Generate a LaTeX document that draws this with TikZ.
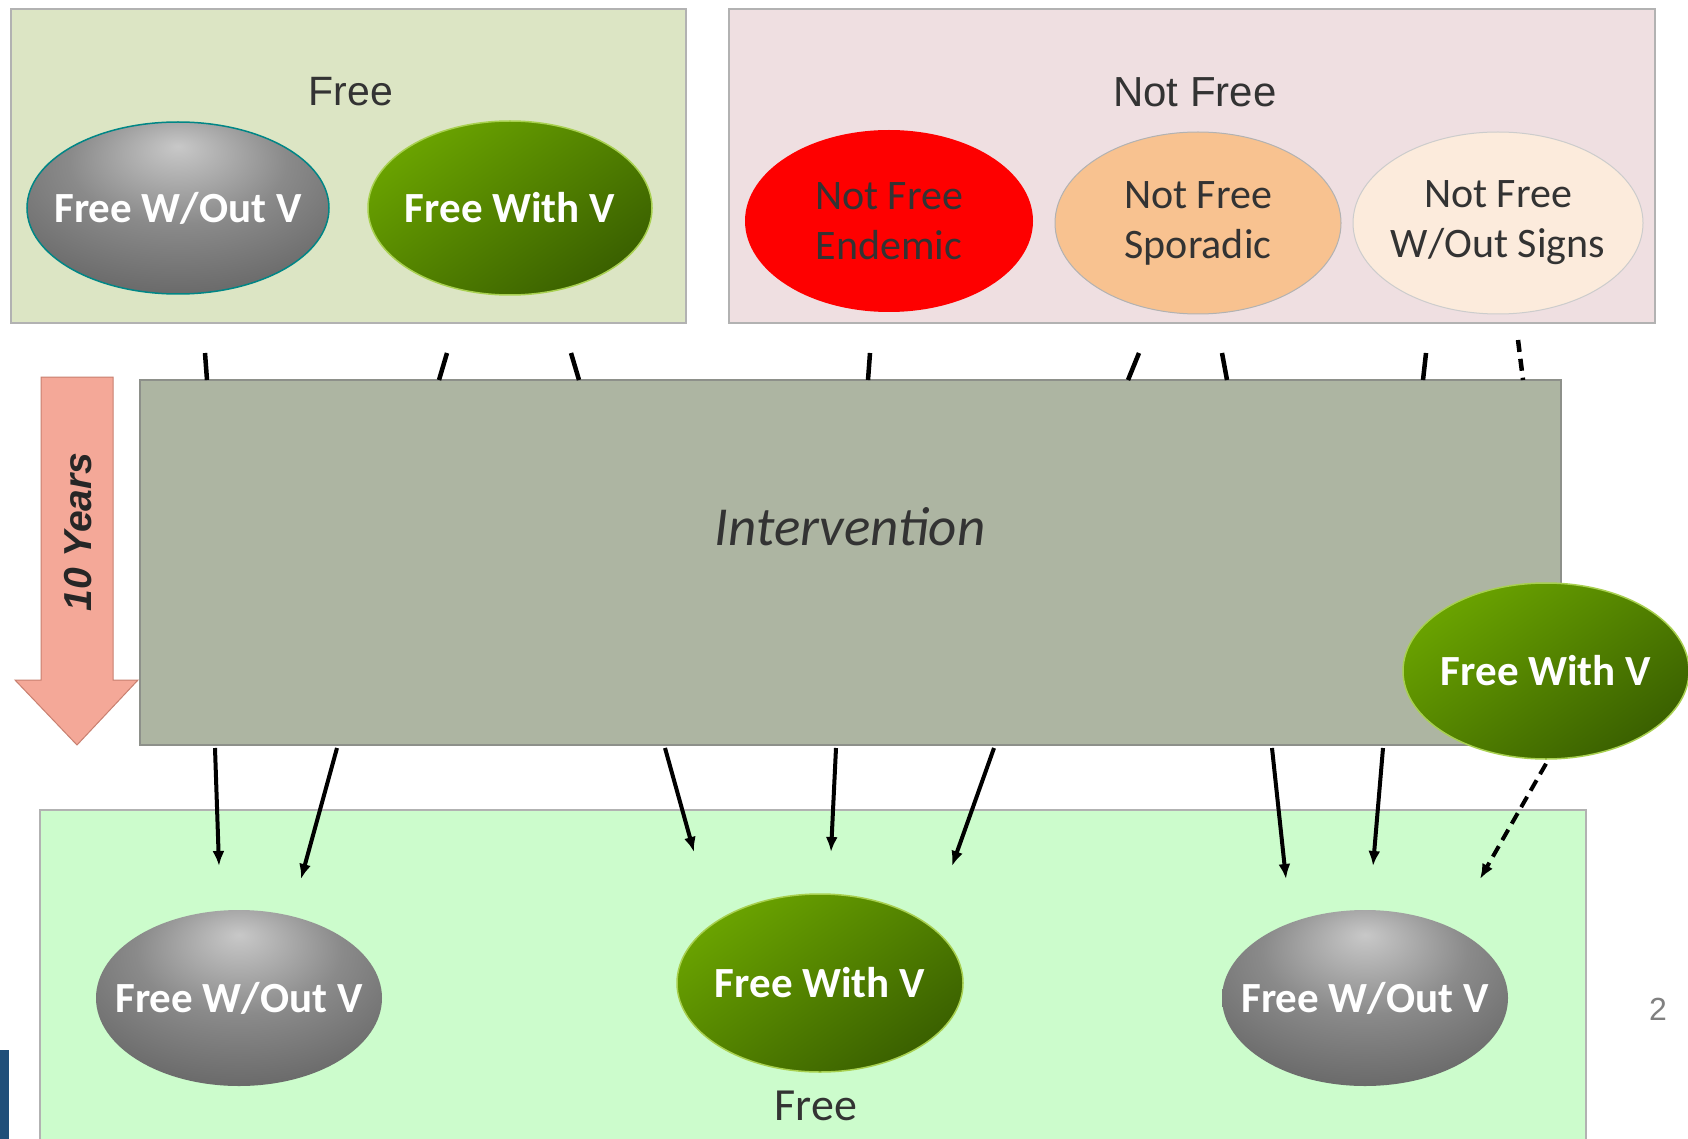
\documentclass[tikz,border=0pt]{standalone}
\usepackage{fontspec}
\setmainfont{Carlito}
\newfontfamily\arialf{Liberation Sans}
\usetikzlibrary{shapes.geometric,arrows.meta}
\definecolor{freeboxc}{HTML}{DCE5C4}
\definecolor{nfboxc}{HTML}{EFDFE1}
\definecolor{intc}{HTML}{ADB5A2}
\definecolor{botc}{HTML}{CCFCCC}
\definecolor{redc}{HTML}{FE0000}
\definecolor{sporc}{HTML}{F8C290}
\definecolor{signc}{HTML}{FCEBDC}
\definecolor{gb1}{HTML}{C8C8C8}
\definecolor{gb2}{HTML}{8A8A8A}
\definecolor{gb3}{HTML}{555555}
\definecolor{gb4}{HTML}{2A2A2A}
\definecolor{grl}{HTML}{6AA300}
\definecolor{grd}{HTML}{3A6000}
\definecolor{grb}{HTML}{A8D050}
\definecolor{arrf}{HTML}{F4A898}
\definecolor{arrd}{HTML}{C88070}
\definecolor{bluebar}{HTML}{1F4E79}
\pgfdeclareradialshading{grayball}{\pgfqpoint{0bp}{18bp}}{color(0bp)=(gb1); color(18bp)=(gb2); color(45bp)=(gb3); color(70bp)=(gb4)}
\tikzset{
  container/.style={draw=gray!60, line width=1.5pt, inner sep=0pt},
  oval/.style={ellipse, inner sep=0pt},
  whitetxt/.style={text=white, font=\fontsize{43}{48}\selectfont\bfseries},
  darktxt/.style={text=black!80, font=\fontsize{42}{50}\selectfont, align=center},
  grayoval/.style={oval, shading=grayball},
  greenoval/.style={oval, top color=grl, bottom color=grd, shading angle=35, draw=grb, line width=1.5pt},
  arr/.style={line width=4pt, -{Latex[length=15pt,width=12pt]}},
  stub/.style={line width=4.5pt},
}
\begin{document}
\begin{tikzpicture}[x=1pt,y=-1pt]
\useasboundingbox (0,0) rectangle (1688,1139);
\fill[white] (0,0) rectangle (1688,1139);

% containers
\node[container, fill=freeboxc, minimum width=675pt, minimum height=314pt] (freebox) at (348.5,166) {};
\node[container, fill=nfboxc, minimum width=926pt, minimum height=314pt] (nfbox) at (1192,166) {};
\node[container, fill=botc, minimum width=1546pt, minimum height=340pt] (botbox) at (813,980) {};

\node[font=\arialf\fontsize{41}{46}\selectfont, text=black!80] (tfree) at (351,92) {Free};
\node[font=\arialf\fontsize{42}{46}\selectfont, text=black!80] (tnf) at (1195,92) {Not Free};

% top ellipses
\node[grayoval, draw=teal!50!cyan!70!black, line width=1.5pt, minimum width=302pt, minimum height=172pt,
      label={[whitetxt]center:Free W/Out V}] (fwo1) at (178,208) {};
\node[greenoval, minimum width=284pt, minimum height=174pt,
      label={[whitetxt]center:Free With V}] (fw1) at (510,208) {};
\node[oval, fill=redc, minimum width=288pt, minimum height=182pt,
      label={[darktxt]center:Not Free\\Endemic}] (nfe) at (889,221) {};
\node[oval, fill=sporc, draw=gray!60, line width=1pt, minimum width=286pt, minimum height=182pt,
      label={[darktxt]center:Not Free\\Sporadic}] (nfs) at (1198,223) {};
\node[oval, fill=signc, draw=gray!40, line width=1pt, minimum width=290pt, minimum height=182pt,
      label={[darktxt]center:Not Free\\W/Out Signs}] (nfw) at (1498,223) {};

% 10 years arrow
\path[fill=arrf, draw=arrd, line width=1pt] (41,377) -- (113,377) -- (113,680) -- (138,680) -- (77,745) -- (15,680) -- (41,680) -- cycle;
\node[rotate=90, font=\arialf\fontsize{39}{42}\selectfont\bfseries\itshape, text=black!85] (years) at (78,532) {10 Years};

% intervention
\node[draw=gray!70!intc, line width=1.5pt, fill=intc, minimum width=1421pt, minimum height=365pt, inner sep=0pt] (int) at (850.5,562.5) {};
\node[font=\fontsize{55}{60}\selectfont\itshape, text=black!80] (tint) at (850,527) {Intervention};

% top stubs
\coordinate (s1a) at (205,353); \coordinate (s1b) at (207,380);
\coordinate (s2a) at (447,353); \coordinate (s2b) at (439,380);
\coordinate (s3a) at (571,353); \coordinate (s3b) at (579,380);
\coordinate (s4a) at (870,353); \coordinate (s4b) at (868,380);
\coordinate (s5a) at (1139,353); \coordinate (s5b) at (1128,380);
\coordinate (s6a) at (1222,353); \coordinate (s6b) at (1227,380);
\coordinate (s7a) at (1426,353); \coordinate (s7b) at (1423,380);
\coordinate (s8a) at (1518,340); \coordinate (s8b) at (1523,380);
\foreach \i in {1,...,7} {\draw[stub] (s\i a) -- (s\i b);}
\draw[stub, dash pattern=on 12pt off 7pt] (s8a) -- (s8b);

% right free with V
\node[greenoval, minimum width=286pt, minimum height=176pt,
      label={[whitetxt]center:Free With V}] (fw2) at (1546,671) {};

% bottom ellipses
\node[grayoval, minimum width=286pt, minimum height=176pt,
      label={[whitetxt]center:Free W/Out V}] (fwo2) at (239,998) {};
\node[greenoval, minimum width=286pt, minimum height=178pt,
      label={[whitetxt]center:Free With V}] (fw3) at (820,983) {};
\node[grayoval, minimum width=286pt, minimum height=176pt,
      label={[whitetxt]center:Free W/Out V}] (fwo3) at (1365,998) {};
\node[font=\fontsize{46}{50}\selectfont, text=black!80] (tfree2) at (816,1106) {Free};

% bottom arrows
\coordinate (a1s) at (215,748); \coordinate (a1e) at (219,866);
\coordinate (a2s) at (337,748); \coordinate (a2e) at (301,879);
\coordinate (a3s) at (665,748); \coordinate (a3e) at (694,852);
\coordinate (a4s) at (836,748); \coordinate (a4e) at (831,852);
\coordinate (a5s) at (994,748); \coordinate (a5e) at (952,866);
\coordinate (a6s) at (1272,748); \coordinate (a6e) at (1286,879);
\coordinate (a7s) at (1383,748); \coordinate (a7e) at (1373,866);
\coordinate (a8e) at (1480,879);
\foreach \i in {1,...,7} {\draw[arr] (a\i s) -- (a\i e);}
\draw[arr, dash pattern=on 12pt off 7pt] (fw2.south) ++(0,4) -- (a8e);

% page number and bar
\node[font=\arialf\fontsize{32}{36}\selectfont, text=gray] (pnum) at (1658,1009) {2};
\fill[bluebar] (0,1050) rectangle (9,1139);
\end{tikzpicture}
\end{document}
